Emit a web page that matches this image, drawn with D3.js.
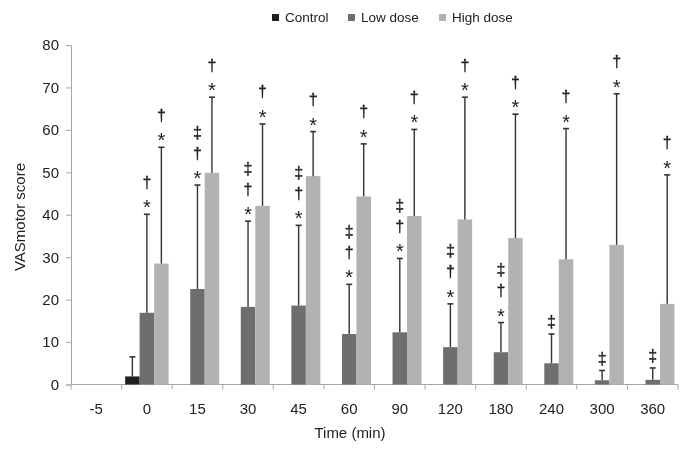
<!DOCTYPE html>
<html><head><meta charset="utf-8">
<script src="https://cdn.jsdelivr.net/npm/d3@7/dist/d3.min.js"></script>
<style>body{margin:0;background:#fff}svg{display:block;filter:grayscale(1)}text{font-family:"Liberation Sans",Arial,sans-serif}</style>
</head><body><svg id="c" width="691" height="454"></svg>
<script>
const categories = ["-5","0","15","30","45","60","90","120","180","240","300","360"];
const seriesNames = ["Control","Low dose","High dose"];
const controlMean = [0,1.9,0,0,0,0,0,0,0,0,0,0];
const controlErr  = [null,6.5,null,null,null,null,null,null,null,null,null,null];
const lowMean = [0,16.9,22.5,18.3,18.6,11.9,12.3,8.8,7.6,5.0,1.0,1.1];
const lowErr  = [null,40.1,47.0,38.5,37.5,23.6,29.7,19.0,14.6,11.9,3.3,3.9];
const highMean = [0,28.5,49.9,42.1,49.1,44.3,39.7,38.9,34.5,29.5,32.9,19.0];
const highErr  = [null,55.9,67.7,61.4,59.6,56.7,60.1,67.7,63.7,60.3,68.5,49.4];
const lowMarks  = ["","*†","*†‡","*†‡","*†‡","*†‡","*†‡","*†‡","*†‡","‡","‡","‡"];
const highMarks = ["","*†","*†","*†","*†","*†","*†","*†","*†","*†","*†","*†"];
const yTicks = [0,10,20,30,40,50,60,70,80];
const colors = ["#231f20","#6d6e70","#b1b2b4"];

const svg = d3.select("#c");
const L = 71, R = 678, T = 45, B = 384.5;
const x = d3.scaleBand().domain(categories).range([L,R]).paddingInner(0).paddingOuter(0);
const xs = d3.scaleBand().domain(seriesNames).range([0,x.bandwidth()]).paddingInner(0).paddingOuter(0.245);
const y = d3.scaleLinear().domain([0,80]).range([B,T]);

// y axis
const ya = svg.append("g").attr("transform",`translate(${L},0)`)
  .call(d3.axisLeft(y).tickValues(yTicks).tickSize(5).tickPadding(7));
ya.select(".domain").attr("stroke","#a6a6a6");
ya.selectAll(".tick line").attr("stroke","#a6a6a6");
ya.selectAll("text").attr("font-size",15).attr("fill","#222").attr("font-family","Liberation Sans, Arial, sans-serif");

// x axis: ticks at band boundaries
const xg = svg.append("g").attr("transform",`translate(0,${B})`);
xg.append("line").attr("x1",L).attr("x2",R).attr("stroke","#a6a6a6");
const bounds = categories.map(c=>x(c)).concat([R]);
xg.selectAll("line.t").data(bounds).join("line").attr("class","t")
  .attr("x1",d=>d).attr("x2",d=>d).attr("y1",0).attr("y2",5).attr("stroke","#a6a6a6");
xg.selectAll("text").data(categories).join("text")
  .attr("x",d=>x(d)+x.bandwidth()/2).attr("y",29).attr("text-anchor","middle")
  .attr("font-size",15).attr("fill","#222").text(d=>d);

const series = [
  {name:"Control", mean:controlMean, err:controlErr, marks:null},
  {name:"Low dose", mean:lowMean, err:lowErr, marks:lowMarks},
  {name:"High dose", mean:highMean, err:highErr, marks:highMarks}
];
const symOffset = {"*":0, "†":26.5, "‡":47.5};
series.forEach((s,si)=>{
  const g = svg.append("g");
  const data = categories.map((c,i)=>({c, v:s.mean[i], e:s.err[i], m:s.marks?s.marks[i]:""}));
  g.selectAll("rect").data(data.filter(d=>d.v>0)).join("rect")
    .attr("x",d=>x(d.c)+xs(s.name)).attr("width",xs.bandwidth())
    .attr("y",d=>y(d.v)).attr("height",d=>y(0)-y(d.v)).attr("fill",colors[si]);
  const eb = data.filter(d=>d.e!=null);
  const cx = d=>x(d.c)+xs(s.name)+xs.bandwidth()/2;
  g.selectAll("line.e").data(eb).join("line").attr("class","e")
    .attr("x1",cx).attr("x2",cx).attr("y1",d=>y(d.v)).attr("y2",d=>y(d.e))
    .attr("stroke","#333").attr("stroke-width",1.4);
  g.selectAll("line.cap").data(eb).join("line").attr("class","cap")
    .attr("x1",d=>cx(d)-3).attr("x2",d=>cx(d)+3).attr("y1",d=>y(d.e)).attr("y2",d=>y(d.e))
    .attr("stroke","#333").attr("stroke-width",1.6);
  const sg = g.append("g");
  eb.forEach(d=>{
    const syms = Array.from(d.m);
    syms.forEach((sym,k)=>{
      let off = symOffset[sym];
      if (syms.length===1 && sym==="‡") off = 6.5;
      const t = sg.append("text").attr("x",cx(d)).attr("text-anchor","middle")
        .attr("y", y(d.e) - off).attr("fill","#222").text(sym);
      if (sym==="*") t.attr("font-family","Liberation Sans, Arial, sans-serif").attr("font-size",20);
      else t.attr("font-family","DejaVu Sans, sans-serif").attr("font-size",16)
            .attr("stroke","#222").attr("stroke-width",0.3);
    });
  });
});

// axis titles
svg.append("text").attr("x",350).attr("y",438).attr("text-anchor","middle")
  .attr("font-size",15).attr("fill","#222").text("Time (min)");
svg.append("text").attr("transform",`translate(25,217) rotate(-90)`).attr("text-anchor","middle")
  .attr("font-size",15).attr("fill","#222").text("VASmotor score");

// legend
const legX = [272, 348, 439];
const lg = svg.append("g");
seriesNames.forEach((n,i)=>{
  lg.append("rect").attr("x",legX[i]).attr("y",14).attr("width",7).attr("height",7).attr("fill",colors[i]);
  lg.append("text").attr("x",legX[i]+13).attr("y",22).attr("font-size",13.5).attr("fill","#222").text(n);
});
</script></body></html>
